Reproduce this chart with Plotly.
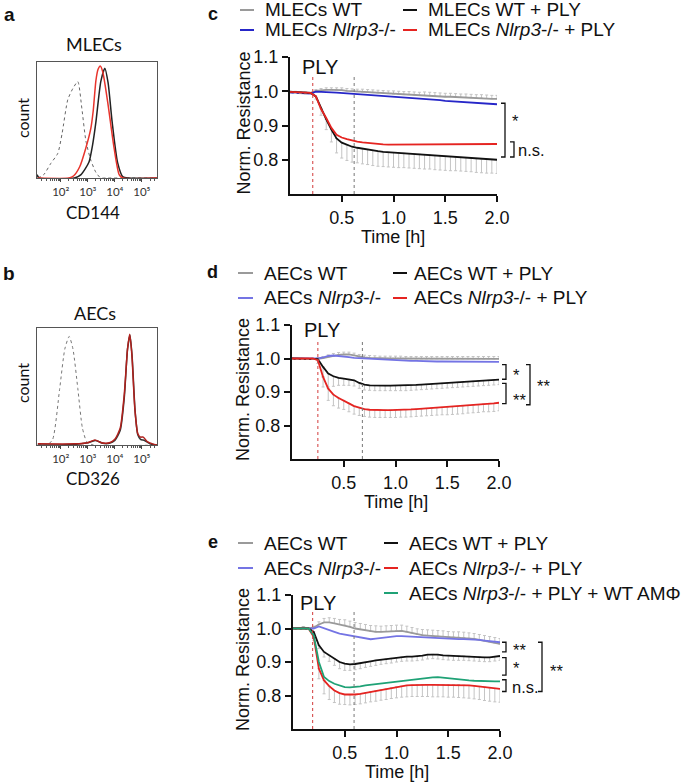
import numpy as np
import plotly.graph_objects as go

W, H = 685, 784

# ---------------- data: flow cytometry histograms (log10 intensity, normalised count)
A_ISO_X = [1.15, 1.37, 1.63, 1.89, 2.05, 2.26, 2.45, 2.63, 2.78, 2.93, 3.11, 3.30, 3.48, 3.70, 5.56]
A_ISO_Y = [0.00, 0.03, 0.13, 0.22, 0.40, 0.70, 0.80, 0.86, 0.62, 0.33, 0.16, 0.05, 0.00, 0.00, 0.00]
A_KO_X = [1.15, 2.30, 2.48, 2.70, 2.93, 3.11, 3.20, 3.30, 3.38, 3.46, 3.55, 3.74, 3.97, 4.16, 4.30, 5.56]
A_KO_Y = [0.00, 0.00, 0.02, 0.10, 0.27, 0.44, 0.60, 0.87, 0.97, 1.00, 0.95, 0.67, 0.27, 0.03, 0.00, 0.00]
A_WT_X = [1.12, 1.20, 2.50, 2.75, 3.04, 3.18, 3.30, 3.48, 3.63, 3.75, 3.90, 4.10, 4.30, 4.50, 5.56]
A_WT_Y = [0.03, 0.00, 0.00, 0.03, 0.14, 0.30, 0.50, 0.86, 0.98, 0.85, 0.50, 0.14, 0.01, 0.00, 0.00]

B_ISO_X = [1.15, 1.50, 1.70, 1.96, 2.15, 2.31, 2.45, 2.63, 2.80, 2.96, 3.20, 5.56]
B_ISO_Y = [0.00, 0.00, 0.05, 0.50, 0.85, 0.96, 0.85, 0.50, 0.15, 0.03, 0.00, 0.00]
B_KO_X = [1.15, 2.50, 3.00, 3.26, 3.50, 3.80, 4.00, 4.20, 4.35, 4.47, 4.55, 4.63, 4.74, 4.85, 4.95, 5.05, 5.20, 5.40, 5.56]
B_KO_Y = [0.01, 0.01, 0.02, 0.045, 0.02, 0.02, 0.05, 0.15, 0.45, 0.85, 0.98, 0.80, 0.32, 0.10, 0.07, 0.07, 0.03, 0.01, 0.00]
B_WT_X = [1.15, 2.50, 3.00, 3.30, 3.55, 3.80, 4.00, 4.20, 4.35, 4.47, 4.56, 4.64, 4.75, 4.85, 4.95, 5.10, 5.30, 5.56]
B_WT_Y = [0.00, 0.005, 0.02, 0.04, 0.015, 0.015, 0.04, 0.13, 0.42, 0.85, 0.97, 0.78, 0.30, 0.09, 0.05, 0.04, 0.01, 0.00]

DECADES = ["10²", "10³", "10⁴", "10⁵"]

# ---------------- data: normalised resistance over time
TIME_H = [0.0, 0.05, 0.1, 0.15, 0.2, 0.25, 0.3, 0.35, 0.4, 0.45,
          0.5, 0.55, 0.6, 0.65, 0.7, 0.75, 0.8, 0.85, 0.9, 0.95,
          1.0, 1.05, 1.1, 1.15, 1.2, 1.25, 1.3, 1.35, 1.4, 1.45,
          1.5, 1.55, 1.6, 1.65, 1.7, 1.75, 1.8, 1.85, 1.9, 1.95, 2.0]

# panel c (MLECs)
C_WT = [0.999, 0.998, 0.997, 0.996, 0.995, 1.001, 1.003, 1.004, 1.004, 1.004,
        1.003, 1.001, 1.000, 0.999, 0.998, 0.997, 0.996, 0.995, 0.994, 0.993,
        0.992, 0.991, 0.990, 0.990, 0.989, 0.988, 0.988, 0.987, 0.986, 0.985,
        0.984, 0.984, 0.983, 0.982, 0.982, 0.981, 0.980, 0.980, 0.979, 0.978, 0.978]
C_KO = [0.996, 0.995, 0.995, 0.994, 0.993, 0.999, 0.999, 0.998, 0.997, 0.996,
        0.995, 0.994, 0.993, 0.992, 0.991, 0.990, 0.988, 0.987, 0.986, 0.985,
        0.983, 0.982, 0.981, 0.980, 0.979, 0.978, 0.977, 0.976, 0.975, 0.974,
        0.972, 0.971, 0.970, 0.969, 0.969, 0.968, 0.967, 0.966, 0.965, 0.963, 0.962]
C_WT_PLY = [0.998, 0.997, 0.996, 0.995, 0.995, 0.985, 0.950, 0.918, 0.888, 0.862,
            0.850, 0.843, 0.838, 0.835, 0.832, 0.830, 0.827, 0.825, 0.823, 0.822,
            0.821, 0.820, 0.819, 0.818, 0.817, 0.816, 0.815, 0.814, 0.812, 0.811,
            0.810, 0.809, 0.808, 0.807, 0.806, 0.805, 0.803, 0.802, 0.801, 0.801, 0.800]
C_KO_PLY = [0.998, 0.997, 0.996, 0.995, 0.995, 0.985, 0.948, 0.922, 0.893, 0.873,
            0.865, 0.860, 0.856, 0.853, 0.851, 0.849, 0.847, 0.846, 0.845, 0.844,
            0.844, 0.844, 0.844, 0.844, 0.844, 0.844, 0.844, 0.844, 0.844, 0.845,
            0.845, 0.845, 0.845, 0.845, 0.845, 0.845, 0.845, 0.846, 0.846, 0.846, 0.846]
C_WT_SEM = [0.002, 0.002, 0.002, 0.002, 0.002, 0.004, 0.005, 0.006, 0.006, 0.006,
            0.007, 0.007, 0.007, 0.007, 0.008, 0.008, 0.008, 0.008, 0.008, 0.008,
            0.009, 0.009, 0.009, 0.009, 0.009, 0.009, 0.010, 0.010, 0.010, 0.010,
            0.010, 0.010, 0.010, 0.010, 0.010, 0.010, 0.010, 0.010, 0.010, 0.010, 0.010]
C_WT_PLY_SEM = [0.003, 0.003, 0.003, 0.003, 0.003, 0.008, 0.020, 0.030, 0.036, 0.042,
                0.045, 0.045, 0.045, 0.044, 0.044, 0.044, 0.044, 0.044, 0.043, 0.043,
                0.043, 0.043, 0.042, 0.042, 0.042, 0.042, 0.042, 0.041, 0.041, 0.041,
                0.041, 0.041, 0.040, 0.040, 0.040, 0.040, 0.040, 0.040, 0.040, 0.040, 0.040]

# panel d (AECs)
D_WT = [0.998, 0.998, 0.998, 0.998, 0.998, 0.999, 1.001, 1.005, 1.008, 1.011,
        1.012, 1.012, 1.009, 1.005, 1.003, 1.002, 1.001, 1.000, 1.000, 1.000,
        1.000, 1.000, 0.999, 0.999, 0.999, 0.999, 0.999, 0.999, 0.999, 0.999,
        0.999, 0.999, 0.999, 0.999, 0.999, 0.999, 0.999, 0.999, 0.999, 0.999, 0.999]
D_KO = [1.000, 1.000, 1.000, 1.000, 1.000, 1.000, 1.003, 1.008, 1.009, 1.008,
        1.006, 1.004, 1.002, 1.001, 1.000, 0.999, 0.998, 0.997, 0.996, 0.995,
        0.995, 0.994, 0.994, 0.993, 0.993, 0.992, 0.992, 0.992, 0.991, 0.991,
        0.991, 0.991, 0.990, 0.990, 0.990, 0.990, 0.990, 0.990, 0.990, 0.990, 0.990]
D_WT_PLY = [1.000, 1.000, 1.000, 1.000, 1.000, 0.998, 0.975, 0.955, 0.947, 0.942,
            0.940, 0.938, 0.935, 0.927, 0.922, 0.920, 0.919, 0.919, 0.919, 0.919,
            0.919, 0.919, 0.919, 0.920, 0.921, 0.922, 0.923, 0.924, 0.925, 0.926,
            0.927, 0.928, 0.929, 0.930, 0.931, 0.932, 0.933, 0.934, 0.935, 0.936, 0.937]
D_KO_PLY = [1.000, 1.000, 1.000, 1.000, 1.000, 0.995, 0.945, 0.910, 0.892, 0.882,
            0.875, 0.866, 0.858, 0.853, 0.849, 0.847, 0.846, 0.846, 0.846, 0.846,
            0.846, 0.847, 0.847, 0.848, 0.849, 0.850, 0.851, 0.852, 0.853, 0.854,
            0.855, 0.856, 0.857, 0.858, 0.860, 0.861, 0.862, 0.864, 0.865, 0.866, 0.868]
D_WT_SEM = [0.003, 0.003, 0.003, 0.003, 0.003, 0.004, 0.005, 0.006, 0.007, 0.007,
            0.007, 0.007, 0.007, 0.007, 0.007, 0.007, 0.007, 0.007, 0.007, 0.007,
            0.007, 0.007, 0.007, 0.007, 0.007, 0.007, 0.007, 0.007, 0.007, 0.007,
            0.007, 0.007, 0.007, 0.007, 0.007, 0.007, 0.007, 0.007, 0.007, 0.007, 0.007]
D_WT_PLY_SEM = [0.002, 0.002, 0.002, 0.002, 0.002, 0.005, 0.030, 0.040, 0.030, 0.022,
                0.020, 0.018, 0.017, 0.016, 0.016, 0.015, 0.015, 0.015, 0.015, 0.015,
                0.015, 0.015, 0.015, 0.015, 0.015, 0.015, 0.015, 0.015, 0.015, 0.015,
                0.015, 0.015, 0.015, 0.015, 0.015, 0.015, 0.015, 0.015, 0.015, 0.015, 0.015]
D_KO_PLY_SEM = [0.002, 0.002, 0.002, 0.002, 0.002, 0.010, 0.030, 0.035, 0.033, 0.030,
                0.027, 0.025, 0.024, 0.023, 0.022, 0.022, 0.022, 0.022, 0.022, 0.022,
                0.022, 0.022, 0.022, 0.022, 0.022, 0.022, 0.022, 0.022, 0.022, 0.022,
                0.023, 0.023, 0.023, 0.023, 0.023, 0.023, 0.023, 0.023, 0.024, 0.024, 0.024]

# panel e (AECs + alveolar macrophages)
E_WT = [1.000, 1.000, 1.003, 1.000, 1.003, 1.012, 1.018, 1.018, 1.015, 1.012,
        1.010, 1.005, 1.000, 0.997, 0.994, 0.991, 0.990, 0.990, 0.991, 0.992,
        0.993, 0.993, 0.990, 0.986, 0.982, 0.980, 0.979, 0.978, 0.977, 0.976,
        0.975, 0.974, 0.974, 0.973, 0.971, 0.969, 0.966, 0.963, 0.960, 0.957, 0.954]
E_KO = [1.000, 1.000, 1.002, 1.000, 1.000, 1.006, 1.000, 0.995, 0.990, 0.985,
        0.982, 0.980, 0.978, 0.974, 0.970, 0.968, 0.970, 0.972, 0.974, 0.976,
        0.977, 0.977, 0.976, 0.975, 0.974, 0.973, 0.972, 0.971, 0.970, 0.969,
        0.968, 0.968, 0.968, 0.968, 0.968, 0.967, 0.966, 0.964, 0.962, 0.960, 0.959]
E_WT_PLY = [1.000, 1.000, 1.000, 1.000, 0.990, 0.950, 0.930, 0.920, 0.910, 0.900,
            0.895, 0.893, 0.894, 0.896, 0.899, 0.902, 0.905, 0.907, 0.909, 0.911,
            0.913, 0.915, 0.916, 0.916, 0.917, 0.919, 0.922, 0.923, 0.922, 0.920,
            0.919, 0.918, 0.918, 0.918, 0.917, 0.916, 0.915, 0.914, 0.914, 0.916, 0.918]
E_KO_PLY = [1.000, 1.000, 1.000, 1.000, 0.975, 0.880, 0.845, 0.828, 0.815, 0.807,
            0.803, 0.802, 0.803, 0.805, 0.808, 0.811, 0.814, 0.817, 0.820, 0.823,
            0.826, 0.828, 0.830, 0.831, 0.832, 0.832, 0.832, 0.832, 0.832, 0.832,
            0.832, 0.832, 0.832, 0.831, 0.830, 0.829, 0.827, 0.825, 0.823, 0.821, 0.820]
E_KO_PLY_AMF = [1.000, 1.000, 1.000, 1.000, 0.980, 0.900, 0.855, 0.843, 0.835, 0.829,
                0.825, 0.824, 0.825, 0.827, 0.830, 0.832, 0.834, 0.836, 0.838, 0.840,
                0.841, 0.842, 0.844, 0.846, 0.848, 0.850, 0.852, 0.854, 0.855, 0.853,
                0.851, 0.849, 0.847, 0.846, 0.845, 0.844, 0.843, 0.842, 0.842, 0.842, 0.842]
E_WT_SEM = [0.003, 0.003, 0.003, 0.003, 0.004, 0.008, 0.012, 0.014, 0.015, 0.015,
            0.016, 0.017, 0.018, 0.018, 0.018, 0.018, 0.018, 0.017, 0.017, 0.017,
            0.017, 0.017, 0.017, 0.017, 0.017, 0.017, 0.017, 0.017, 0.017, 0.017,
            0.016, 0.016, 0.016, 0.016, 0.016, 0.016, 0.016, 0.016, 0.016, 0.016, 0.016]
E_WT_PLY_SEM = [0.002, 0.002, 0.002, 0.002, 0.004, 0.010, 0.015, 0.018, 0.020, 0.020,
                0.020, 0.018, 0.017, 0.016, 0.015, 0.015, 0.015, 0.014, 0.014, 0.014,
                0.013, 0.013, 0.013, 0.013, 0.013, 0.013, 0.013, 0.013, 0.013, 0.013,
                0.013, 0.013, 0.013, 0.013, 0.013, 0.013, 0.013, 0.013, 0.013, 0.013, 0.013]
E_KO_PLY_SEM = [0.002, 0.002, 0.002, 0.002, 0.010, 0.030, 0.040, 0.040, 0.036, 0.033,
                0.030, 0.030, 0.030, 0.030, 0.030, 0.030, 0.031, 0.031, 0.032, 0.032,
                0.033, 0.033, 0.034, 0.034, 0.035, 0.035, 0.035, 0.036, 0.036, 0.036,
                0.037, 0.037, 0.038, 0.038, 0.038, 0.039, 0.039, 0.040, 0.040, 0.040, 0.040]

ARIAL = "Liberation Sans, Arial, sans-serif"
FACS_FONT = "Lato, Open Sans, sans-serif"
GRAY, BLACK, RED, GREEN = "#9a9a9a", "#111111", "#e52421", "#1fa276"
BLUE_C, BLUE_DE = "#2626c8", "#7474e4"
ERR = "#c4c4c4"


def fx(px):
    return px / W


def fy(py):
    return 1 - py / H


fig = go.Figure()
annotations = []
shapes = []


def txt(x, y, text, size=19, xanchor="left", font=ARIAL, **kw):
    annotations.append(dict(x=fx(x), y=fy(y), xref="paper", yref="paper", text=text,
                            showarrow=False, xanchor=xanchor, yanchor="middle",
                            font=dict(family=font, size=size, color="#111"), **kw))


# ---------------- histograms a / b
def hist(n, x, y, color, dash="solid", width=1.5):
    fig.add_trace(go.Scatter(x=x, y=y, mode="lines", line=dict(color=color, width=width, dash=dash, shape="spline", smoothing=0.6),
                             xaxis=f"x{n}", yaxis=f"y{n}", hoverinfo="skip"))


hist(1, A_ISO_X, A_ISO_Y, "#666", "dot", 1)
hist(1, A_WT_X, A_WT_Y, "#222")
hist(1, A_KO_X, A_KO_Y, "#e8342c")
hist(2, B_ISO_X, B_ISO_Y, "#777", "dot", 1)
hist(2, B_WT_X, B_WT_Y, "#333")
hist(2, B_KO_X, B_KO_Y, "#b0201c")

minor_vals = [d + np.log10(k) for d in range(1, 6) for k in range(2, 10)]
for n, (top, bot) in {1: (62, 178), 2: (328, 445)}.items():
    fig.update_layout(**{
        f"xaxis{n}": dict(domain=[fx(37), fx(157)], range=[1.12, 5.56], anchor=f"y{n}",
                          tickvals=[2, 3, 4, 5], ticktext=DECADES, ticks="outside", ticklen=3,
                          tickcolor="#444", showline=True, mirror=True, linecolor="#555", linewidth=1,
                          showgrid=False, zeroline=False, tickfont=dict(family=FACS_FONT, size=11.5, color="#333"),
                          minor=dict(tickmode="array", tickvals=minor_vals, ticks="outside", ticklen=2, tickcolor="#555")),
        f"yaxis{n}": dict(domain=[fy(bot), fy(top)], range=[0, 1.035], anchor=f"x{n}",
                          showticklabels=False, ticks="", showline=True, mirror=True, linecolor="#555",
                          linewidth=1, showgrid=False, zeroline=False),
    })

txt(9, 14, "<b>a</b>", 19, "center")
txt(9, 273, "<b>b</b>", 19, "center")
txt(94, 44, "MLECs", 18, "center", FACS_FONT)
txt(95, 313, "AECs", 18, "center", FACS_FONT)
txt(93, 212, "CD144", 17, "center", FACS_FONT)
txt(93, 478, "CD326", 17, "center", FACS_FONT)
txt(23, 118, "count", 16, "center", FACS_FONT, textangle=-90)
txt(23, 383, "count", 16, "center", FACS_FONT, textangle=-90)


# ---------------- resistance panels c / d / e
def res_line(n, y, color, up=None, down=None):
    err = None
    if up is not None or down is not None:
        err = dict(type="data", symmetric=False, array=up or [0] * len(y), arrayminus=down or [0] * len(y),
                   color=ERR, thickness=1, width=1.5)
    fig.add_trace(go.Scatter(x=TIME_H, y=y, mode="lines", line=dict(color=color, width=1.8),
                             error_y=err, xaxis=f"x{n}", yaxis=f"y{n}", hoverinfo="skip"))


res_line(3, C_WT, GRAY, up=C_WT_SEM)
res_line(3, C_KO, BLUE_C)
res_line(3, C_WT_PLY, BLACK, down=C_WT_PLY_SEM)
res_line(3, C_KO_PLY, RED)

res_line(4, D_WT, GRAY, up=D_WT_SEM)
res_line(4, D_KO, BLUE_DE)
res_line(4, D_WT_PLY, BLACK, down=D_WT_PLY_SEM)
res_line(4, D_KO_PLY, RED, down=D_KO_PLY_SEM)

res_line(5, E_WT, GRAY, up=E_WT_SEM)
res_line(5, E_KO, BLUE_DE)
res_line(5, E_WT_PLY, BLACK, down=E_WT_PLY_SEM)
res_line(5, E_KO_PLY, RED, down=E_KO_PLY_SEM)
res_line(5, E_KO_PLY_AMF, GREEN)

# pixel frame of each panel: x0, x1, y_top(1.1), y_bottom(0.7), PLY time, second marker time
PANELS = {3: (290, 497, 57, 194, 0.22, 0.62),
          4: (292, 499, 325, 459, 0.25, 0.68),
          5: (293, 500, 595, 729, 0.19, 0.59)}

for n, (x0, x1, top, bot, t_ply, t_mark) in PANELS.items():
    fig.update_layout(**{
        f"xaxis{n}": dict(domain=[fx(x0), fx(x1)], range=[0, 2.0], anchor=f"y{n}",
                          tickvals=[0.5, 1.0, 1.5, 2.0], ticktext=["0.5", "1.0", "1.5", "2.0"],
                          ticks="outside", ticklen=6, tickwidth=2, tickcolor="#111",
                          showline=True, linewidth=2, linecolor="#111", showgrid=False, zeroline=False,
                          tickfont=dict(family=ARIAL, size=18, color="#111")),
        f"yaxis{n}": dict(domain=[fy(bot), fy(top)], range=[0.7, 1.1], anchor=f"x{n}",
                          tickvals=[0.8, 0.9, 1.0, 1.1], ticktext=["0.8", "0.9", "1.0", "1.1"],
                          ticks="outside", ticklen=6, tickwidth=2, tickcolor="#111",
                          showline=True, linewidth=2, linecolor="#111", showgrid=False, zeroline=False,
                          tickfont=dict(family=ARIAL, size=18, color="#111")),
    })
    shapes.append(dict(type="line", xref=f"x{n}", yref=f"y{n}", x0=t_ply, x1=t_ply, y0=0.7, y1=1.05,
                       line=dict(color="#d23a3a", width=1, dash="dot")))
    shapes.append(dict(type="line", xref=f"x{n}", yref=f"y{n}", x0=t_mark, x1=t_mark, y0=0.7, y1=1.05,
                       line=dict(color="#777", width=1, dash="dot")))
    txt((x0 + x1) / 2, bot + 43, "Time [h]", 18, "center")
    txt(243, (top + bot) / 2 - 3, "Norm. Resistance", 18, "center", textangle=-90)

for n, tx, ty in [(3, 0.1, 1.072), (4, 0.1, 1.085), (5, 0.05, 1.075)]:
    annotations.append(dict(x=tx, y=ty, xref=f"x{n}", yref=f"y{n}", text="PLY", showarrow=False,
                            xanchor="left", font=dict(family=ARIAL, size=20, color="#111")))


def bracket(n, x, y_hi, y_lo, label, lx, ly):
    shapes.append(dict(type="path", xref="paper", yref=f"y{n}",
                       path=f"M {fx(x - 4)},{y_hi} L {fx(x)},{y_hi} L {fx(x)},{y_lo} L {fx(x - 4)},{y_lo}",
                       line=dict(color="#111", width=1.3)))
    annotations.append(dict(x=fx(lx), y=ly, xref="paper", yref=f"y{n}", text=label, showarrow=False,
                            xanchor="left", yanchor="middle", font=dict(family=ARIAL, size=16.5, color="#111")))


bracket(3, 505, 0.965, 0.808, "*", 510, 0.914)
bracket(3, 514, 0.852, 0.808, "n.s.", 516, 0.828)

bracket(4, 506, 0.982, 0.938, "*", 511, 0.951)
bracket(4, 506, 0.926, 0.865, "**", 511, 0.877)
bracket(4, 530, 0.982, 0.862, "**", 535, 0.919)

bracket(5, 506, 0.959, 0.930, "**", 511, 0.936)
bracket(5, 506, 0.913, 0.861, "*", 511, 0.882)
bracket(5, 506, 0.847, 0.812, "n.s.", 510, 0.826)
bracket(5, 542, 0.959, 0.812, "**", 548, 0.874)

# panel letters and legends
txt(213, 14, "<b>c</b>", 18, "center")
txt(213, 272, "<b>d</b>", 18, "center")
txt(213, 542, "<b>e</b>", 18, "center")


def legend_item(x0, x1, xt, y, color, label):
    shapes.append(dict(type="line", xref="paper", yref="paper", x0=fx(x0), x1=fx(x1), y0=fy(y), y1=fy(y),
                       line=dict(color=color, width=2)))
    txt(xt, y, label)


KO = "<i>Nlrp3</i>-/-"
legend_item(240, 254, 263, 10, GRAY, "MLECs WT")
legend_item(403, 417, 426, 10, BLACK, "MLECs WT + PLY")
legend_item(240, 254, 263, 30, BLUE_C, f"MLECs {KO}")
legend_item(403, 417, 426, 30, RED, f"MLECs {KO} + PLY")

legend_item(238, 253, 262, 273, GRAY, "AECs WT")
legend_item(393, 407, 412, 273, BLACK, "AECs WT + PLY")
legend_item(238, 253, 262, 298, BLUE_DE, f"AECs {KO}")
legend_item(393, 407, 412, 298, RED, f"AECs {KO} + PLY")

legend_item(238, 253, 262, 543, GRAY, "AECs WT")
legend_item(384, 398, 407, 543, BLACK, "AECs WT + PLY")
legend_item(238, 253, 262, 568, BLUE_DE, f"AECs {KO}")
legend_item(384, 398, 407, 568, RED, f"AECs {KO} + PLY")
legend_item(384, 398, 407, 593, GREEN, f"AECs {KO} + PLY + WT AMΦ")

fig.update_layout(width=W, height=H, margin=dict(l=0, r=0, t=0, b=0, autoexpand=False), showlegend=False,
                  paper_bgcolor="white", plot_bgcolor="white",
                  annotations=annotations, shapes=shapes)
# the page's default body margin would shift the fixed-size figure
fig.write_html("out.html", config={"displayModeBar": False},
               post_script="document.body.style.margin='0';document.body.style.overflow='hidden';")
